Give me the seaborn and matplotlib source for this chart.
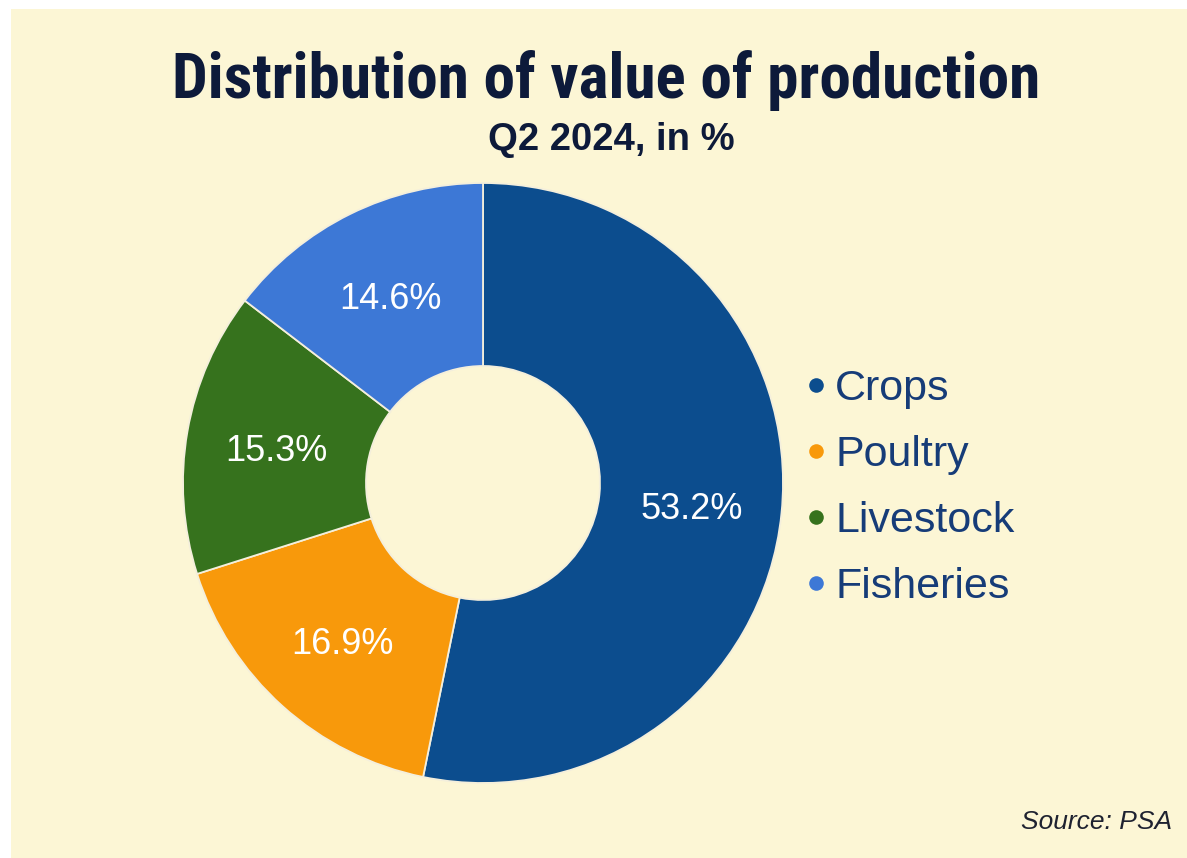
import numpy as np
import pandas as pd
import matplotlib
matplotlib.use("Agg")
import matplotlib.pyplot as plt
import seaborn as sns
from matplotlib.lines import Line2D
from matplotlib.patches import Rectangle

# data
categories = ["Crops", "Poultry", "Livestock", "Fisheries"]
shares = [53.2, 16.9, 15.3, 14.6]
colors = ["#0c4d8e", "#f8990b", "#36721d", "#3d78d6"]

df = pd.DataFrame({"category": categories, "share": shares})

sns.set_theme(style="white")
plt.rcParams["font.family"] = ["Liberation Sans", "DejaVu Sans"]
title_font = ["Roboto Condensed", "Liberation Sans", "DejaVu Sans"]

W, H = 1187, 858
fig = plt.figure(figsize=(W / 100, H / 100), dpi=100)
fig.patch.set_facecolor("white")
# pale yellow card (small white margin top/left)
fig.patches.append(Rectangle((11 / W, 0), 1, 1 - 9 / H, transform=fig.transFigure,
                             facecolor="#fcf6d5", edgecolor="none", zorder=-10))

# donut axes, centre at (483, 483) px, radius 300 px
cx, cy, half = 483, 483, 310
ax = fig.add_axes([(cx - half) / W, (H - cy - half) / H, 2 * half / W, 2 * half / H])
ax.set_facecolor("none")
pal = sns.color_palette(colors)
wedges, texts, autotexts = ax.pie(
    df["share"], colors=pal, startangle=90, counterclock=False,
    radius=1.0, autopct="%.1f%%", pctdistance=0.70,
    wedgeprops=dict(width=0.61, edgecolor="#f4efdc", linewidth=1.3),
    textprops=dict(color="white", fontsize=26))
# nudge the labels down a bit
for t in autotexts:
    x, y = t.get_position()
    t.set_position((x, y - 0.017))
ax.set_xlim(-half / 300, half / 300)
ax.set_ylim(-half / 300, half / 300)
ax.set_aspect("equal")

# titles
fig.text(606 / W, 1 - 98 / H, "Distribution of value of production",
         ha="center", va="baseline", fontsize=45.5, fontweight="bold",
         color="#0d1a3a", family=title_font)
fig.text(611 / W, 1 - 150 / H, "Q2 2024, in %",
         ha="center", va="baseline", fontsize=27.5, fontweight="bold",
         color="#0d1a3a")

# legend
handles = [Line2D([0], [0], marker="o", linestyle="none", markersize=10.5,
                  markerfacecolor=c, markeredgecolor="none") for c in colors]
leg = fig.legend(handles, categories, loc="center left",
                 bbox_to_anchor=(805 / W, 1 - 488 / H), frameon=False,
                 fontsize=31, labelspacing=0.6, handletextpad=0.2,
                 handlelength=0.5, borderaxespad=0, borderpad=0)
for t in leg.get_texts():
    t.set_color("#163c78")

fig.text(1172 / W, 1 - 829 / H, "Source: PSA", ha="right", va="baseline",
         fontsize=19, style="italic", color="#1e2230")

fig.savefig("out.png", dpi=100)
